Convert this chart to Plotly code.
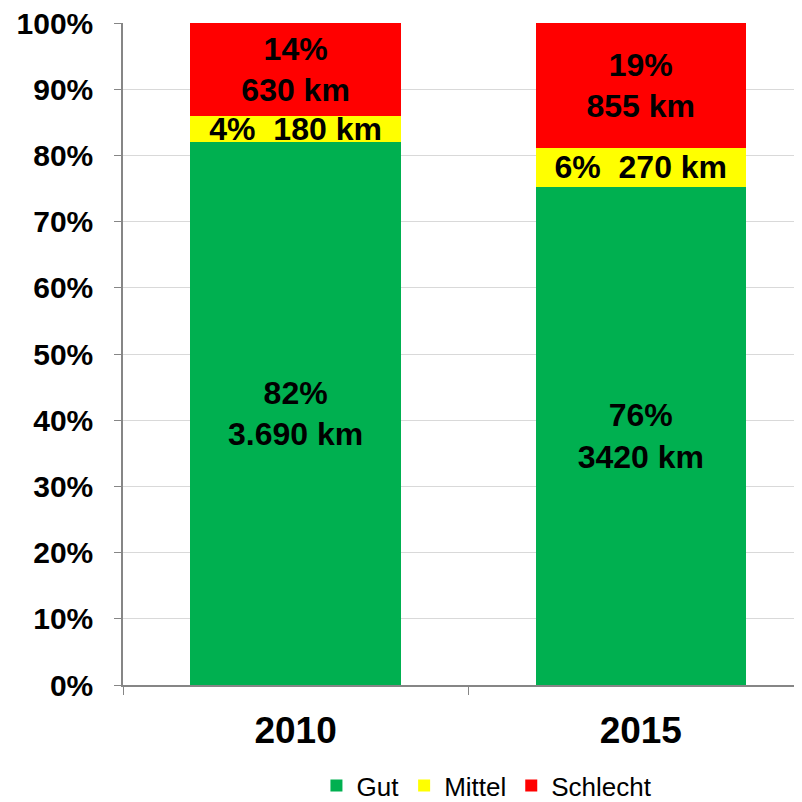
import plotly.graph_objects as go

years = ["2010", "2015"]
gut_km = [3690, 3420]
mittel_km = [180, 270]
schlecht_km = [630, 855]
gut_text = ["82%<br>3.690 km", "76%<br>3420 km"]
mittel_text = ["4%\u00a0\u00a0180 km", "6%\u00a0\u00a0270 km"]
schlecht_text = ["14%<br>630 km", "19%<br>855 km"]
y_ticks = [0, 10, 20, 30, 40, 50, 60, 70, 80, 90, 100]
y_tick_labels = ["0%", "10%", "20%", "30%", "40%", "50%", "60%", "70%", "80%", "90%", "100%"]

FONT = "Arial, Liberation Sans, sans-serif"

fig = go.Figure()
for name, vals, txt, col in [
    ("Gut", gut_km, gut_text, "#00b050"),
    ("Mittel", mittel_km, mittel_text, "#ffff00"),
    ("Schlecht", schlecht_km, schlecht_text, "#ff0000"),
]:
    fig.add_trace(go.Bar(
        name=name, x=years, y=vals, text=txt,
        textposition="inside", insidetextanchor="middle",
        textfont=dict(family=FONT, size=32, color="black", weight="bold"),
        marker=dict(color=col, line=dict(width=0)),
        hoverinfo="skip",
    ))

fig.update_layout(
    barmode="stack", barnorm="percent", bargap=0.39,
    width=794, height=794,
    margin=dict(l=115, r=0, t=15, b=117, autoexpand=False),
    paper_bgcolor="white", plot_bgcolor="white",
    uniformtext=dict(minsize=32, mode="show"),
    font=dict(family=FONT, color="black"),
    legend=dict(orientation="h", x=0.536, xanchor="center", y=-0.152, yanchor="middle",
                traceorder="normal",
                font=dict(family=FONT, size=26, color="black"),
                itemclick=False, itemdoubleclick=False),
    showlegend=True,
)
fig.update_xaxes(
    type="category", range=[-0.5, 1.467], automargin=False,
    showline=True, linecolor="#868686", linewidth=1.5,
    ticks="outside", tickson="boundaries", ticklen=8, tickcolor="#868686",
    tickfont=dict(family=FONT, size=37, color="black", weight="bold"),
    ticklabelstandoff=12,
    showgrid=False,
)
fig.update_yaxes(
    range=[0, 100.02], tickmode="array", tickvals=y_ticks, ticktext=y_tick_labels,
    automargin=False, ticklabeloverflow="allow",
    showline=True, linecolor="#868686", linewidth=1.5,
    ticks="outside", ticklen=7, tickcolor="#868686",
    showgrid=True, gridcolor="#d9d9d9", gridwidth=1,
    tickfont=dict(family=FONT, size=30, color="black", weight="bold"),
    ticklabelstandoff=15,
    zeroline=False,
)

fig.write_html("out.html")
